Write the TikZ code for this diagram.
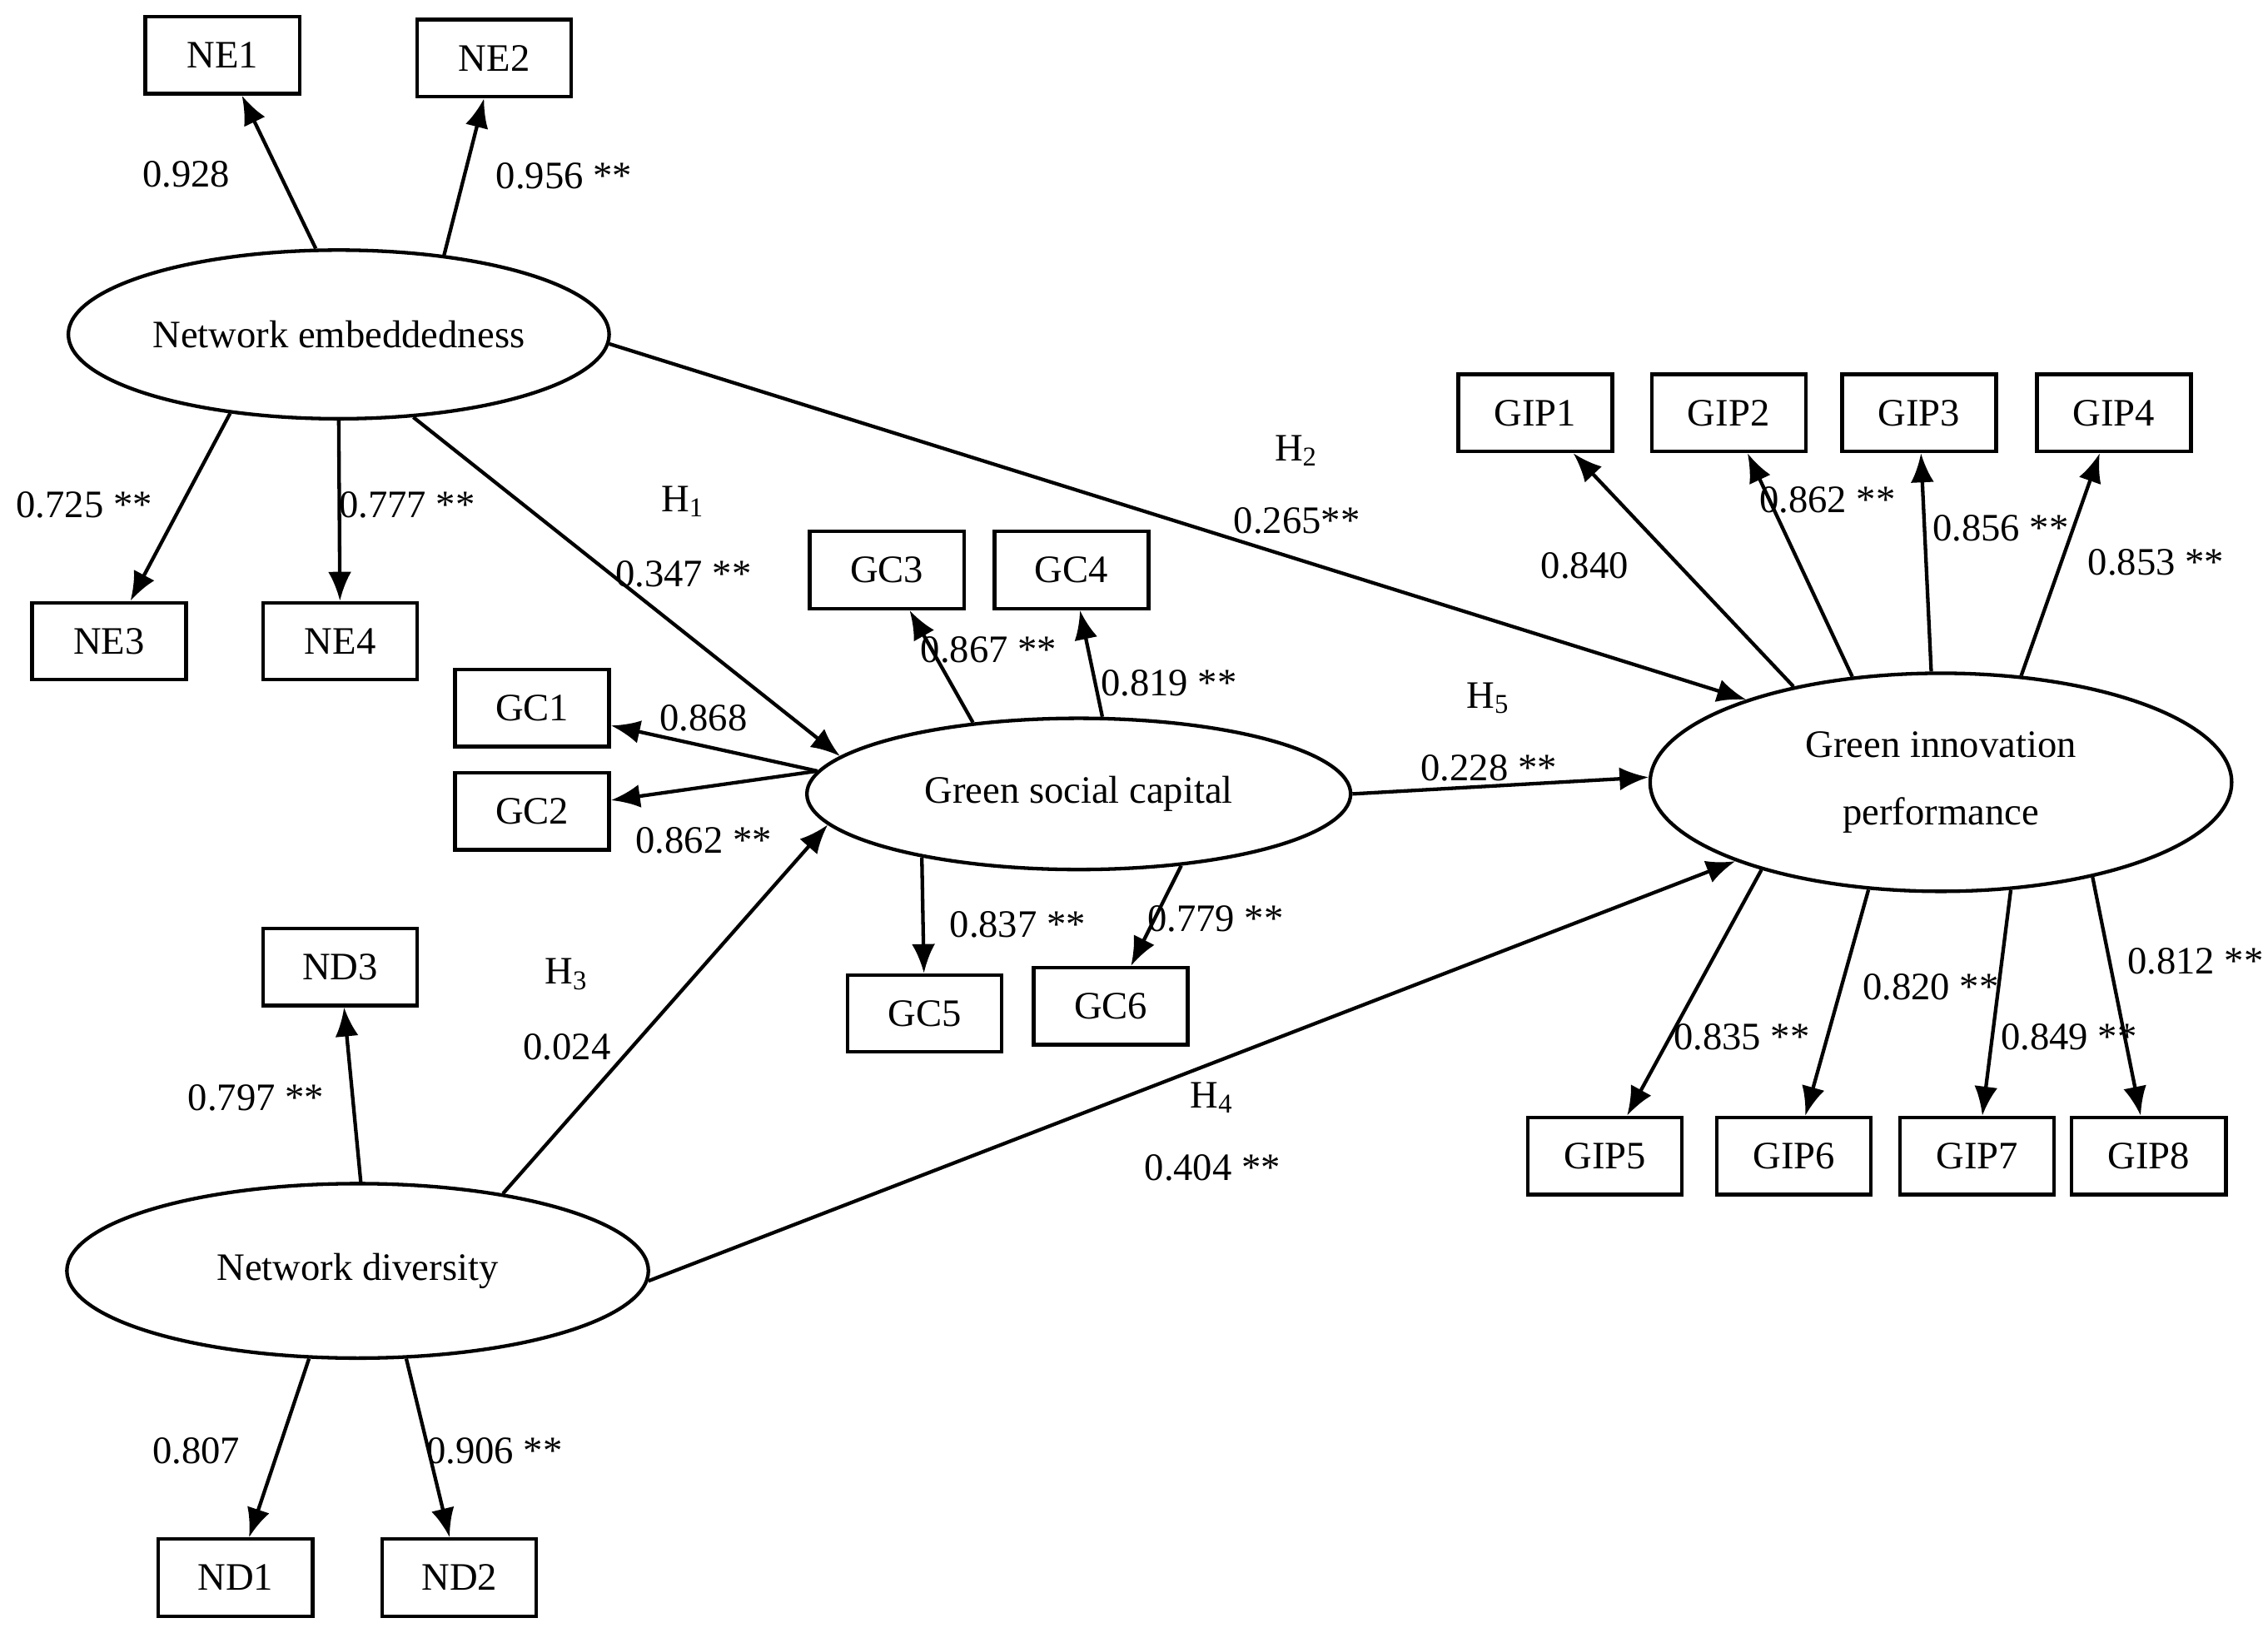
\documentclass[tikz,border=0pt]{standalone}
\usepackage{fontspec}
\setmainfont{Liberation Serif}
\usetikzlibrary{shapes.geometric,arrows.meta}
\begin{document}
\begin{tikzpicture}[x=0.1mm,y=-0.1mm,font=\fontsize{7.6}{9}\selectfont,
 box/.style={draw,line width=0.7pt,minimum width=10.6mm,minimum height=5.3mm,inner sep=0pt},
 lat/.style={draw,ellipse,line width=0.7pt,inner sep=0pt},
 arr/.style={line width=0.7pt,-{Latex[length=2mm,width=1.6mm]}},
 lbl/.style={inner sep=1pt}]
\useasboundingbox (0,0) rectangle (1560,1123);
\node[lat,minimum width=37.2mm,minimum height=11.6mm] (ne) at (233,230) {Network embeddedness};
\node[lat,minimum width=37.4mm,minimum height=10.4mm] (gsc) at (742,546) {Green social capital};
\node[lat,minimum width=40mm,minimum height=15mm,align=center] (gip) at (1335,538) {Green innovation\\[1.5mm]performance};
\node[lat,minimum width=40mm,minimum height=12mm] (nd) at (246,874) {Network diversity};
\foreach \n/\x/\y in {NE1/153/38,NE2/340/40,NE3/75/441,NE4/234/441,GC1/366/487,GC2/366/558,GC3/610/392,GC4/737/392,GC5/636/697,GC6/764/692,GIP1/1056/284,GIP2/1189/284,GIP3/1320/284,GIP4/1454/284,GIP5/1104/795,GIP6/1234/795,GIP7/1360/795,GIP8/1478/795,ND1/162/1085,ND2/316/1085,ND3/234/665}
  \node[box] (\n) at (\x,\y) {\n};
\draw[arr] (ne.105) -- (NE1);
\draw[arr] (ne.37) -- (NE2);
\draw[arr] (ne.216) -- (NE3);
\draw[arr] (ne.270) -- (NE4);
\draw[arr] (ne.312) -- (gsc.171);
\draw[arr] (ne.358) -- (gip.157);
\draw[arr] (gsc.175) -- (GC1);
\draw[arr] (gsc.175) -- (GC2);
\draw[arr] (gsc.146) -- (GC3);
\draw[arr] (gsc.73) -- (GC4);
\draw[arr] (gsc.202) -- (GC5);
\draw[arr] (gsc.325) -- (GC6);
\draw[arr] (gsc.0) -- (gip.179);
\draw[arr] (gip.147) -- (GIP1);
\draw[arr] (gip.130) -- (GIP2);
\draw[arr] (gip.95) -- (GIP3);
\draw[arr] (gip.53) -- (GIP4);
\draw[arr] (gip.206) -- (GIP5);
\draw[arr] (gip.236) -- (GIP6);
\draw[arr] (gip.303) -- (GIP7);
\draw[arr] (gip.328) -- (GIP8);
\draw[arr] (nd.88) -- (ND3);
\draw[arr] (nd.28) -- (gsc.187);
\draw[arr] (nd.358) -- (gip.201);
\draw[arr] (nd.241) -- (ND1);
\draw[arr] (nd.299) -- (ND2);
\foreach \t/\x/\y [count=\i] in {0.928/128/120,0.956 **/388/121,0.725 **/58/347,0.777 **/280/347,0.347 **/470/395,0.265**/892/358,0.868/484/494,0.862 **/484/578,0.867 **/680/447,0.819 **/804/470,0.837 **/700/636,0.779 **/836/632,0.228 **/1024/528,0.840/1090/389,0.862 **/1257/344,0.856 **/1376/363,0.853 **/1483/387,0.835 **/1198/713,0.820 **/1328/679,0.849 **/1423/713,0.812 **/1510/661,0.024/390/720,0.797 **/176/755,0.404 **/834/803,0.807/135/998,0.906 **/340/998}
  \node[lbl] (l\i) at (\x,\y) {\t};
\node[lbl] (h1) at (470,345) {H\textsubscript{1}};
\node[lbl] (h2) at (892,310) {H\textsubscript{2}};
\node[lbl] (h3) at (390,670) {H\textsubscript{3}};
\node[lbl] (h4) at (834,755) {H\textsubscript{4}};
\node[lbl] (h5) at (1024,480) {H\textsubscript{5}};
\end{tikzpicture}
\end{document}
